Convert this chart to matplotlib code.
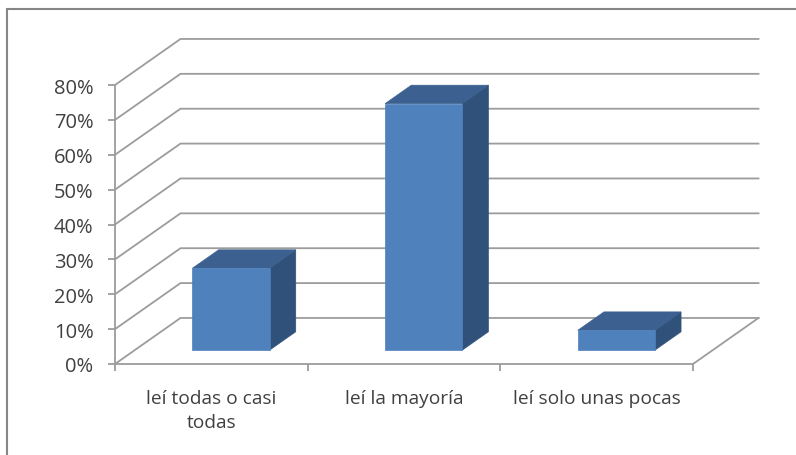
import matplotlib
matplotlib.use('Agg')
import matplotlib.pyplot as plt
from matplotlib.lines import Line2D
from matplotlib.patches import Polygon

categorias = ['leí todas o casi\ntodas', 'leí la mayoría', 'leí solo unas pocas']
valores = [23.5, 70.7, 5.7]
marcas_y = [0, 10, 20, 30, 40, 50, 60, 70, 80]

# 3D falso: desplazamiento del fondo en unidades de datos
prof_x = 0.34
prof_y = 13.2
gris = '#9c9c9c'
texto = '#404040'

plt.rcParams['font.family'] = ['Open Sans', 'DejaVu Sans']

fig = plt.figure(figsize=(7.96, 4.56), dpi=100)
fig.patch.set_facecolor('white')
# marco: solo arriba e izquierda, el resto queda fuera de la imagen
fig.add_artist(Line2D([7.5 / 796, 7.5 / 796, 1], [0, 1 - 10 / 456, 1 - 10 / 456], transform=fig.transFigure,
                      color='#868686', lw=1.5, solid_joinstyle='miter'))

ax = fig.add_axes([115 / 796, 1 - 365 / 456, 578 / 796, 279 / 456])
ax.set_xlim(0, 3)
ax.set_ylim(0, 80)
ax.patch.set_visible(False)


def proy(x, y, d):
    return (x + d * prof_x, y + d * prof_y)


# rejilla: pared izquierda y pared del fondo
for v in marcas_y:
    xs, ys = zip(proy(0, v, 0), proy(0, v, 1), proy(3, v, 1))
    ax.plot(xs, ys, color=gris, lw=1.3, clip_on=False, zorder=1, solid_joinstyle='miter')
xs, ys = zip(proy(3, 0, 0), proy(3, 0, 1))
ax.plot(xs, ys, color=gris, lw=1.3, clip_on=False, zorder=1)

# barras
for i, v in enumerate(valores):
    x0, x1 = i + 0.3, i + 0.7
    d0, d1 = 0.3, 0.7
    cara = [proy(x0, 0, d0), proy(x1, 0, d0), proy(x1, v, d0), proy(x0, v, d0)]
    tapa = [proy(x0, v, d0), proy(x1, v, d0), proy(x1, v, d1), proy(x0, v, d1)]
    lado = [proy(x1, 0, d0), proy(x1, 0, d1), proy(x1, v, d1), proy(x1, v, d0)]
    ax.add_patch(Polygon(lado, facecolor='#30527a', edgecolor='#30527a', lw=0.5, clip_on=False, zorder=3))
    ax.add_patch(Polygon(tapa, facecolor='#3c6190', edgecolor='#3c6190', lw=0.5, clip_on=False, zorder=3))
    ax.add_patch(Polygon(cara, facecolor='#4f81bd', edgecolor='#4f81bd', lw=0.5, clip_on=False, zorder=4))

for lado_eje in ['top', 'right']:
    ax.spines[lado_eje].set_visible(False)
for lado_eje in ['left', 'bottom']:
    ax.spines[lado_eje].set_color(gris)
    ax.spines[lado_eje].set_linewidth(1.3)

ax.set_yticks(marcas_y)
ax.set_yticklabels([f'{v}%' for v in marcas_y], fontsize=14.5, color=texto)
ax.set_xticks([0, 1, 2, 3])
ax.set_xticklabels([])
ax.set_xticks([0.5, 1.5, 2.5], minor=True)
ax.set_xticklabels(categorias, minor=True, fontsize=13.8, color=texto, linespacing=1.45)
ax.tick_params(axis='y', length=5, width=1.3, color=gris, pad=10.5)
ax.tick_params(axis='x', which='major', length=5, width=1.3, color=gris)
ax.tick_params(axis='x', which='minor', length=0, pad=18)

plt.savefig('out.png', dpi=100)
plt.close()
